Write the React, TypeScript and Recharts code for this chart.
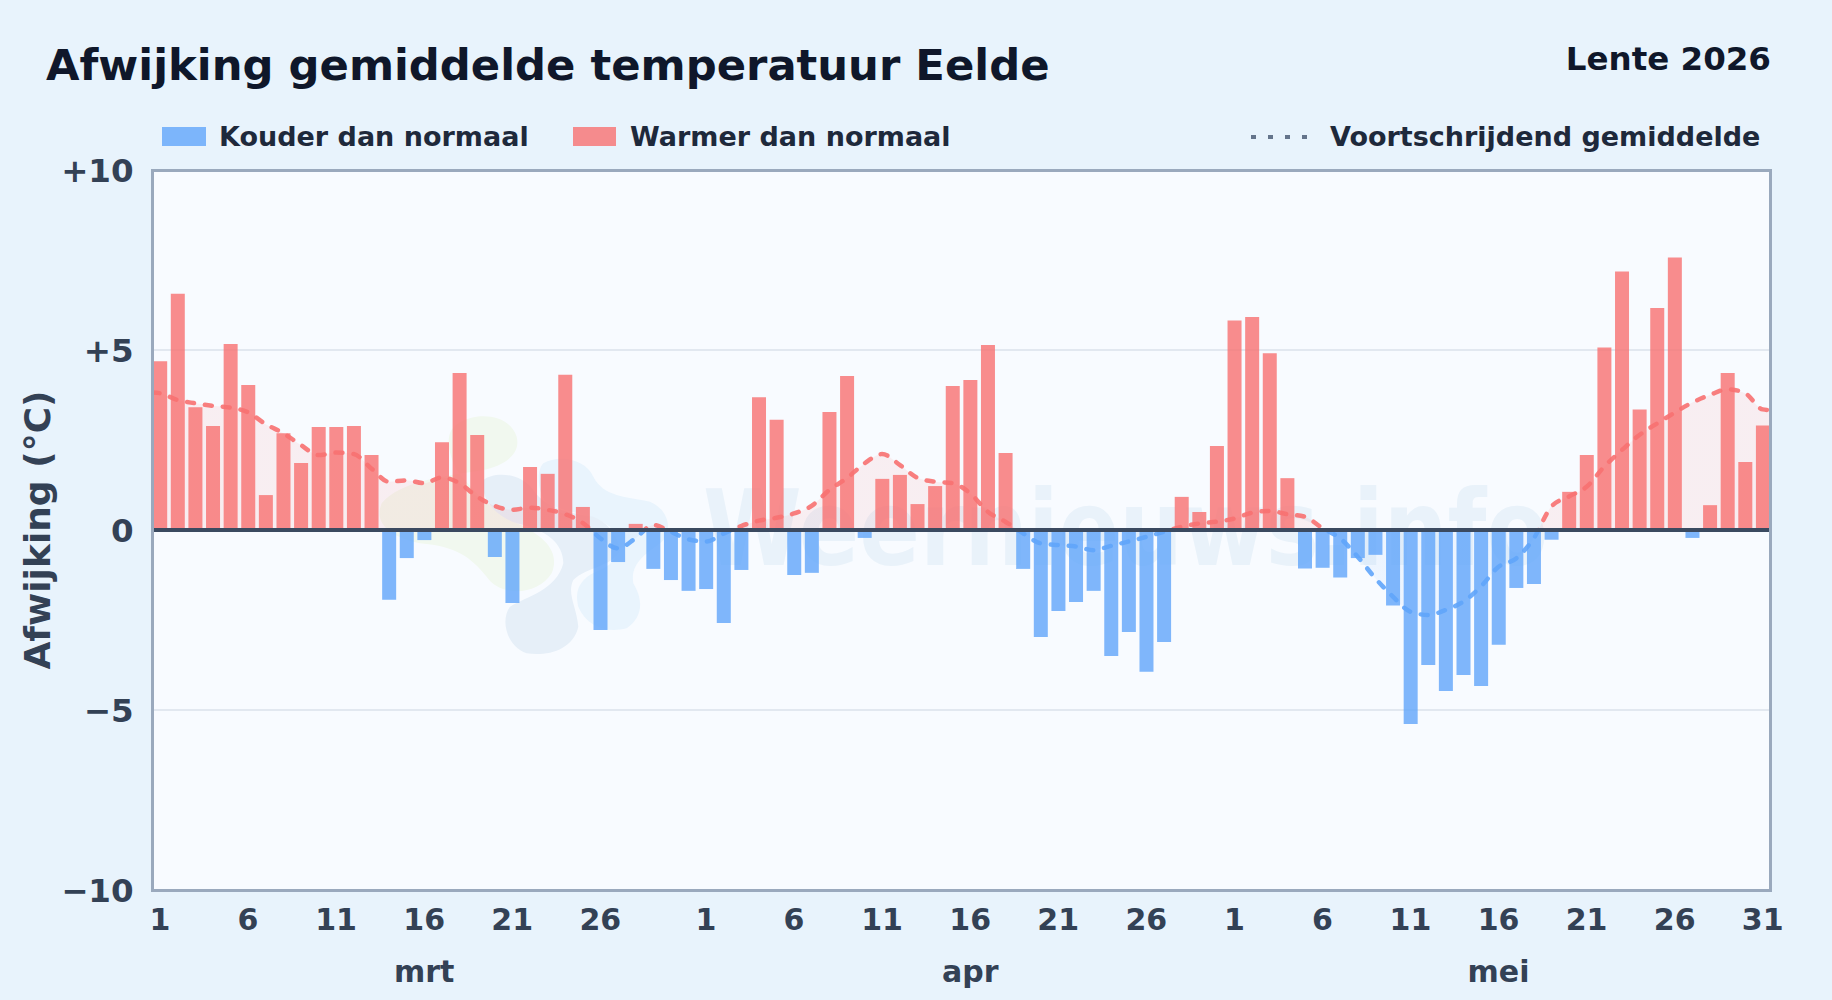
import { Area, Bar, CartesianGrid, Cell, ComposedChart, Line, ReferenceLine, XAxis, YAxis } from 'recharts'

const monthNames = ['mrt', 'apr', 'mei']
const monthTickIndex = [15, 46, 76]
const dayTickIndex = [0, 5, 10, 15, 20, 25, 31, 36, 41, 46, 51, 56, 61, 66, 71, 76, 81, 86, 91]
const dayTickLabels = ['1', '6', '11', '16', '21', '26', '1', '6', '11', '16', '21', '26', '1', '6', '11', '16', '21', '26', '31']
const valueTicks = [-10, -5, 0, 5, 10]
const valueTickLabels = ['−10', '−5', '0', '+5', '+10']

const marchValues = [4.69, 6.56, 3.41, 2.89, 5.17, 4.03, 0.97, 2.69, 1.86, 2.86, 2.86, 2.89, 2.08, -1.94, -0.78, -0.28, 2.44, 4.36, 2.64, -0.75, -2.03, 1.75, 1.56, 4.31, 0.64, -2.78, -0.89, 0.17, -1.08, -1.39, -1.69]
const aprilValues = [-1.64, -2.58, -1.11, 3.69, 3.06, -1.25, -1.19, 3.28, 4.28, -0.22, 1.42, 1.53, 0.72, 1.22, 4.0, 4.17, 5.14, 2.14, -1.08, -2.97, -2.25, -2.0, -1.69, -3.5, -2.83, -3.94, -3.11, 0.92, 0.5, 2.33]
const mayValues = [5.82, 5.92, 4.91, 1.44, -1.07, -1.05, -1.32, -0.78, -0.69, -2.1, -5.39, -3.75, -4.47, -4.03, -4.33, -3.19, -1.61, -1.5, -0.27, 1.06, 2.08, 5.07, 7.18, 3.35, 6.17, 7.57, -0.22, 0.69, 4.36, 1.89, 2.9]

const marchMean = [3.8, 3.61, 3.52, 3.45, 3.4, 3.27, 2.94, 2.69, 2.36, 2.08, 2.15, 2.11, 1.71, 1.34, 1.38, 1.3, 1.46, 1.3, 0.93, 0.67, 0.56, 0.62, 0.56, 0.44, 0.2, -0.23, -0.51, -0.23, 0.14, -0.05, -0.26]
const aprilMean = [-0.32, -0.1, 0.11, 0.26, 0.34, 0.46, 0.67, 1.11, 1.44, 1.85, 2.11, 1.81, 1.45, 1.34, 1.3, 1.02, 0.51, 0.23, -0.09, -0.37, -0.42, -0.46, -0.56, -0.44, -0.32, -0.19, -0.05, 0.09, 0.18, 0.23]
const mayMean = [0.32, 0.48, 0.53, 0.44, 0.37, 0.05, -0.23, -0.74, -1.34, -1.85, -2.27, -2.36, -2.22, -1.99, -1.57, -1.02, -0.79, -0.23, 0.65, 0.93, 1.2, 1.76, 2.22, 2.64, 2.96, 3.26, 3.54, 3.75, 3.91, 3.8, 3.35]

// the mean line runs on to the plot edges, past the first and last bar
const xDomain = [-0.42, 91.47]
const meanAtEdges = [3.82, 3.33]

const values = [...marchValues, ...aprilValues, ...mayValues]
const means = [...marchMean, ...aprilMean, ...mayMean]
const barData = values.map((value, index) => ({ index, value }))
const meanData = [
  { index: xDomain[0], mean: meanAtEdges[0] },
  ...means.map((mean, index) => ({ index, mean })),
  { index: xDomain[1], mean: meanAtEdges[1] },
]

const WIDTH = 1832
const HEIGHT = 1000
const PLOT = { left: 152.6, right: 1771, top: 170, bottom: 890 }

const FONT = '"DejaVu Sans", sans-serif'
const RED = '#f87171'
const BLUE = '#60a5fa'
const TICK_COLOR = '#334155'

function Watermark() {
  return (
    <svg width={WIDTH} height={HEIGHT} style={{ position: 'absolute', left: 0, top: 0 }}>
      <g transform="translate(360 400) scale(0.3333)">
        <path
          fill="#f1f8ef"
          d="M 270 100 C 290 40, 440 20, 470 110 C 485 170, 420 200, 370 210 C 280 225, 120 240, 65 310 C 40 370, 90 410, 180 430 C 290 440, 330 470, 380 530 C 420 590, 530 590, 575 520 C 600 460, 560 410, 470 370 C 390 330, 330 260, 290 210 C 270 170, 260 130, 270 100 Z"
        />
        <path
          fill="#e9f4fd"
          d="M 550 190 C 600 160, 680 180, 700 230 C 730 290, 800 290, 870 305 C 930 330, 940 400, 900 430 C 860 460, 810 490, 820 550 C 850 600, 850 650, 800 685 C 740 700, 680 680, 655 620 C 640 560, 670 530, 720 510 C 770 490, 790 450, 750 380 C 700 340, 620 340, 560 310 C 530 270, 530 210, 550 190 Z"
        />
        <path
          fill="#e6eff8"
          d="M 370 240 C 400 215, 480 215, 520 270 C 560 330, 640 340, 700 350 C 740 365, 770 400, 780 450 C 760 500, 680 500, 640 540 C 620 580, 650 620, 655 680 C 640 750, 560 770, 500 760 C 440 740, 420 660, 450 620 C 500 590, 590 570, 610 490 C 610 430, 560 390, 470 370 C 410 350, 360 300, 370 240 Z"
        />
      </g>
      <text x={703} y={565} textLength={845} lengthAdjust="spacingAndGlyphs" fontFamily={FONT} fontWeight={700} fontSize={105} fill="#e9f2fa">
        Weernieuws.info
      </text>
    </svg>
  )
}

function Header() {
  return (
    <svg width={WIDTH} height={HEIGHT} style={{ position: 'absolute', left: 0, top: 0, pointerEvents: 'none' }} fontFamily={FONT} fontWeight={700}>
      <text x={46} y={80} fontSize={43.3} fill="#0f172a">Afwijking gemiddelde temperatuur Eelde</text>
      <text x={1771} y={70} fontSize={32.5} fill="#0f172a" textAnchor="end">Lente 2026</text>

      <rect x={162} y={127} width={44} height={19} fill={BLUE} fillOpacity={0.8} />
      <text x={219} y={146} fontSize={27} fill="#1e293b">Kouder dan normaal</text>
      <rect x={573} y={127} width={43} height={19} fill={RED} fillOpacity={0.8} />
      <text x={630} y={146} fontSize={27} fill="#1e293b">Warmer dan normaal</text>
      <line x1={1251} x2={1308} y1={137} y2={137} stroke="#64748b" strokeWidth={4} strokeDasharray="5 12" />
      <text x={1330} y={146} fontSize={27} fill="#1e293b">Voortschrijdend gemiddelde</text>

      <text transform="translate(50 530) rotate(-90)" textAnchor="middle" fontSize={36} fill={TICK_COLOR}>Afwijking (°C)</text>
    </svg>
  )
}

function App() {
  return (
    <div style={{ position: 'absolute', left: 0, top: 0, width: WIDTH, height: HEIGHT, background: '#e8f3fc', overflow: 'hidden' }}>
      <div style={{ position: 'absolute', left: PLOT.left, top: PLOT.top, width: PLOT.right - PLOT.left, height: PLOT.bottom - PLOT.top, background: '#f8fbff' }} />
      <Watermark />
      <div style={{ position: 'absolute', left: 0, top: 0 }}>
        <ComposedChart
          width={WIDTH}
          height={HEIGHT}
          data={barData}
          margin={{ top: PLOT.top, right: WIDTH - PLOT.right, bottom: 0, left: 0 }}
        >
          <defs>
            <linearGradient id="meanStroke" gradientUnits="userSpaceOnUse" x1="0" y1={PLOT.top} x2="0" y2={PLOT.bottom}>
              <stop offset="50%" stopColor={RED} />
              <stop offset="50%" stopColor={BLUE} />
            </linearGradient>
            <linearGradient id="meanFill" gradientUnits="userSpaceOnUse" x1="0" y1={PLOT.top} x2="0" y2={PLOT.bottom}>
              <stop offset="50%" stopColor={RED} stopOpacity={0.16} />
              <stop offset="50%" stopColor={BLUE} stopOpacity={0.12} />
            </linearGradient>
          </defs>
          <CartesianGrid xAxisId="days" vertical={false} stroke="#e2e8f0" strokeWidth={2} />
          <XAxis
            xAxisId="days"
            dataKey="index"
            type="number"
            domain={xDomain}
            allowDataOverflow
            ticks={dayTickIndex}
            interval={0}
            tickFormatter={(_value, i) => dayTickLabels[i]}
            tick={{ fontSize: 30, fontWeight: 700, fill: TICK_COLOR, fontFamily: FONT }}
            tickLine={false}
            axisLine={false}
            tickMargin={13}
            height={65}
          />
          <XAxis
            xAxisId="months"
            dataKey="index"
            type="number"
            domain={xDomain}
            allowDataOverflow
            ticks={monthTickIndex}
            interval={0}
            tickFormatter={(_value, i) => monthNames[i]}
            tick={{ fontSize: 30, fontWeight: 700, fill: TICK_COLOR, fontFamily: FONT }}
            tickLine={false}
            axisLine={false}
            tickMargin={0}
            height={45}
          />
          <XAxis xAxisId="meanDays" dataKey="index" type="number" domain={xDomain} allowDataOverflow hide height={0} />
          <YAxis
            domain={[-10, 10]}
            ticks={valueTicks}
            interval={0}
            tickFormatter={(_value, i) => valueTickLabels[i]}
            tick={{ fontSize: 32.5, fontWeight: 700, fill: TICK_COLOR, fontFamily: FONT }}
            tickLine={false}
            axisLine={false}
            tickMargin={13}
            width={PLOT.left}
          />
          <Area xAxisId="meanDays" data={meanData} type="monotone" dataKey="mean" baseValue={0} stroke="none" fill="url(#meanFill)" dot={false} isAnimationActive={false} />
          <Bar xAxisId="days" data={barData} dataKey="value" barSize={14} isAnimationActive={false}>
            {barData.map((entry) => (
              <Cell key={entry.index} fill={entry.value < 0 ? BLUE : RED} fillOpacity={0.8} />
            ))}
          </Bar>
          <Line
            xAxisId="meanDays"
            data={meanData}
            type="monotone"
            dataKey="mean"
            stroke="url(#meanStroke)"
            strokeWidth={4.5}
            strokeOpacity={0.9}
            strokeDasharray="7 11"
            strokeLinecap="round"
            dot={false}
            isAnimationActive={false}
          />
          <ReferenceLine xAxisId="days" y={0} stroke="#3b4a60" strokeWidth={4} />
        </ComposedChart>
      </div>
      <div
        style={{
          position: 'absolute',
          left: PLOT.left - 1.5,
          top: PLOT.top - 1.5,
          width: PLOT.right - PLOT.left + 3,
          height: PLOT.bottom - PLOT.top + 3,
          boxSizing: 'border-box',
          border: '3px solid #9aa9bd',
          pointerEvents: 'none',
        }}
      />
      <Header />
    </div>
  )
}

export default App
